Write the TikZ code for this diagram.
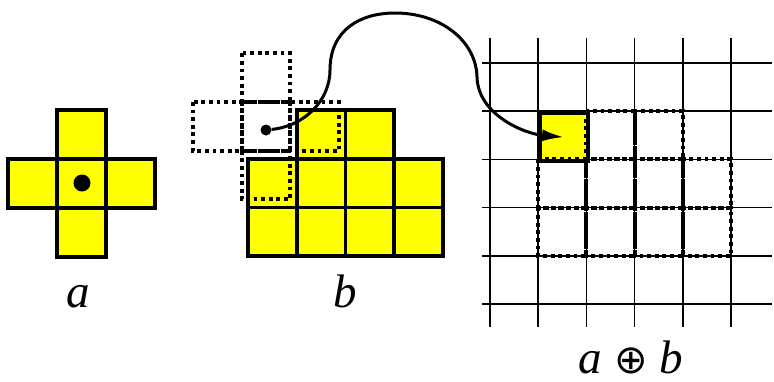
\documentclass[tikz,border=0pt]{standalone}
\usepackage{fontspec}
\setmainfont{Liberation Serif}
\newfontfamily\symfont{DejaVu Sans}
\usetikzlibrary{arrows.meta}
\definecolor{cellfill}{HTML}{FFFF00}
\tikzset{
  sq/.style={draw=black,fill=cellfill,line width=3.6pt},
  ghost/.style={draw=black,line width=4pt,dash pattern=on 3.8pt off 3.8pt},
  rule/.style={draw=black,line width=1.6pt},
  ar/.style={-{Latex[length=22pt,width=12pt]},line width=3pt},
  lab/.style={font=\fontsize{47}{47}\selectfont\itshape,inner sep=0pt,anchor=base},
}

\begin{document}
\begin{tikzpicture}[x=1pt,y=-1pt]
\useasboundingbox (0,0) rectangle (774,381);
% structuring element a
\foreach \x/\y in {57/110,8/159,57/159,106/159,57/208}
  \draw[sq] (\x,\y) rectangle ++(49,49);
\node[circle,fill=black,inner sep=0pt,minimum size=17pt] (core) at (82,183) {};
% set b
\foreach \x in {1,2}
  \draw[sq] (248+48.7*\x,110) rectangle ++(48.7,48.7);
\foreach \x in {0,...,3}
  \foreach \y in {1,2}
    \draw[sq] (248+48.7*\x,110+48.7*\y) rectangle ++(48.7,48.7);
% a placed over b
\foreach \x/\y in {0/-1,-1/0,0/0,1/0,0/1}
  \draw[ghost] (241.5+48.7*\x,102+48.7*\y) rectangle ++(48.7,48.7);
\node[circle,fill=black,inner sep=0pt,minimum size=11pt] (pin) at (266,130) {};
% result grid
\foreach \i in {0,...,5} {
  \draw[rule] (490+48.2*\i,38) -- (490+48.2*\i,327);
  \draw[rule] (482,63+48.2*\i) -- (772,63+48.2*\i);
}
\node[sq,minimum size=48.2pt,inner sep=0pt,anchor=north west] (hit) at (538.2,111.2) {};
\foreach \x/\y in {1/0,2/0,0/1,1/1,2/1,3/1,0/2,1/2,2/2,3/2}
  \draw[ghost] (538.2+48.2*\x,111.2+48.2*\y) rectangle ++(48.2,48.2);
\draw[ar] (pin) .. controls (305,126) and (330,100) .. (330,70)
  .. controls (330,30) and (360,13) .. (395,13)
  .. controls (440,13) and (476,40) .. (477,77)
  .. controls (478,115) and (525,134) .. (hit.center);
% labels
\node[lab] (na) at (78,307) {a};
\node[lab] (nb) at (345,307) {b};
\node[lab] (nab) at (631,373) {a {\symfont\upshape\fontsize{40}{40}\selectfont ⊕} b};
\end{tikzpicture}
\end{document}
